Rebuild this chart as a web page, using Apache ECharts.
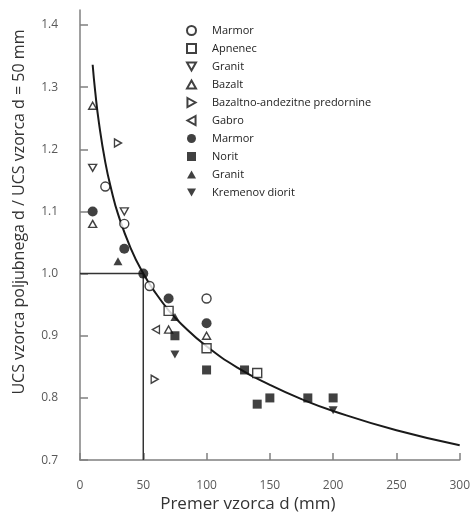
<!DOCTYPE html>
<html>
<head>
<meta charset="utf-8">
<script src="https://cdn.jsdelivr.net/npm/echarts@6/dist/echarts.min.js"></script>
<style>
  html, body { margin: 0; padding: 0; background: #fff; }
  #chart { width: 473px; height: 518px; }
</style>
</head>
<body>
<div id="chart"></div>
<script>
// Specimen size effect: UCS ratio relative to a d = 50 mm specimen
const yTicks = [0.7, 0.8, 0.9, 1.0, 1.1, 1.2, 1.3, 1.4];

const marmorOpen    = [[20, 1.14], [35, 1.08], [55, 0.98], [100, 0.96]];
const apnenec       = [[70, 0.94], [100, 0.88], [140, 0.84]];
const granitOpen    = [[10, 1.17], [35, 1.10]];
const bazalt        = [[10, 1.27], [10, 1.08], [70, 0.91], [100, 0.90]];
const bazaltAndez   = [[30, 1.21], [59, 0.83]];
const gabro         = [[60, 0.91]];
const marmorFilled  = [[10, 1.10], [35, 1.04], [50, 1.00], [70, 0.96], [100, 0.92]];
const norit         = [[75, 0.90], [100, 0.845], [130, 0.845], [140, 0.79], [150, 0.80], [180, 0.80], [200, 0.80]];
const granitFilled  = [[30, 1.02], [75, 0.93]];
const kremenov      = [[75, 0.87], [200, 0.78]];

// Size-effect trend curve
const curveD   = [10, 12, 15, 20, 25, 30, 40, 50, 60, 70, 80, 100, 125, 150, 175, 200, 250, 300];
const curveVal = [1.336, 1.293, 1.242, 1.179, 1.133, 1.096, 1.041, 1.000, 0.968, 0.941, 0.919, 0.883, 0.848, 0.821, 0.798, 0.779, 0.748, 0.724];

// Reference: d = 50 mm, ratio = 1.0
const refLine = [[0, 1.0], [50, 1.0], [50, 0.7]];

const TRI_UP    = 'path://M5,0L10,9L0,9Z';
const TRI_DOWN  = 'path://M0,0L10,0L5,9Z';
const TRI_RIGHT = 'path://M0,0L9,5L0,10Z';
const TRI_LEFT  = 'path://M9,0L0,5L9,10Z';

const INK = '#111';
const openStyle = { color: '#fff', borderColor: INK, borderWidth: 1.4 };
const fillStyle = { color: INK, borderColor: INK, borderWidth: 0 };

function scatter(name, data, symbol, size, style) {
  return {
    type: 'scatter', name: name, data: data, symbol: symbol, symbolSize: size,
    itemStyle: style, z: 5
  };
}

const series = [
  scatter('Marmor', marmorOpen, 'circle', 9, openStyle),
  scatter('Apnenec', apnenec, 'rect', 9, openStyle),
  scatter('Granit', granitOpen, TRI_DOWN, [8, 7], openStyle),
  scatter('Bazalt', bazalt, TRI_UP, [8, 7], openStyle),
  scatter('Bazaltno-andezitne predornine', bazaltAndez, TRI_RIGHT, [7, 8], openStyle),
  scatter('Gabro', gabro, TRI_LEFT, [7, 8], openStyle),
  scatter('Marmor ', marmorFilled, 'circle', 10, fillStyle),
  scatter('Norit', norit, 'rect', 9, fillStyle),
  scatter('Granit ', granitFilled, TRI_UP, [9, 8], fillStyle),
  scatter('Kremenov diorit', kremenov, TRI_DOWN, [9, 8], fillStyle),
  {
    type: 'line', name: 'trend', data: curveD.map((d, i) => [d, curveVal[i]]),
    smooth: true, showSymbol: false, symbol: 'none',
    lineStyle: { color: '#1a1a1a', width: 2 }, z: 3, silent: true
  },
  {
    type: 'line', name: 'ref', data: refLine,
    showSymbol: false, symbol: 'none',
    lineStyle: { color: '#333', width: 1.5 }, z: 2, silent: true
  }
];

const legendNames = series.filter(s => s.type === 'scatter').map(s => s.name);

const chart = echarts.init(document.getElementById('chart'), null, { renderer: 'canvas' });
chart.setOption({
  animation: false,
  backgroundColor: '#fff',
  textStyle: { fontFamily: 'Open Sans' },
  grid: { left: 80, right: 13, top: 10, bottom: 56, containLabel: false },
  legend: {
    data: legendNames,
    orient: 'vertical',
    left: 181, top: 20,
    itemWidth: 9, itemHeight: 9, itemGap: 7,
    formatter: n => n.trim(),
    textStyle: { fontFamily: 'Open Sans', fontSize: 11, color: '#222', padding: [0, 0, 0, 11] },
    selectedMode: false
  },
  xAxis: {
    type: 'value', min: 0, max: 300, interval: 50,
    splitLine: { show: false },
    axisLine: { lineStyle: { color: '#808080', width: 1.5 } },
    axisTick: { inside: true, length: 7, lineStyle: { color: '#808080', width: 1.5 } },
    axisLabel: { color: '#595959', fontSize: 12, margin: 19, fontFamily: 'Open Sans' },
    name: 'Premer vzorca d (mm)', nameLocation: 'middle', nameGap: 33,
    nameTextStyle: { fontSize: 17, color: '#333', fontFamily: 'Open Sans', padding: [0, 44, 0, 0] }
  },
  yAxis: {
    type: 'value', min: 0.7, max: 1.424,
    splitLine: { show: false },
    axisLine: { onZero: false, lineStyle: { color: '#808080', width: 1.5 } },
    axisTick: { inside: true, length: 8, customValues: yTicks, lineStyle: { color: '#808080', width: 1.5 } },
    axisLabel: {
      customValues: yTicks, color: '#595959', fontSize: 12, margin: 22, fontFamily: 'Open Sans',
      formatter: v => v.toFixed(1)
    },
    name: 'UCS vzorca poljubnega d / UCS vzorca d = 50 mm', nameLocation: 'middle', nameGap: 53,
    nameRotate: 90,
    nameTextStyle: { fontSize: 16, color: '#333', fontFamily: 'Open Sans', padding: [0, 0, 0, 46] }
  },
  series: series
});
</script>
</body>
</html>
